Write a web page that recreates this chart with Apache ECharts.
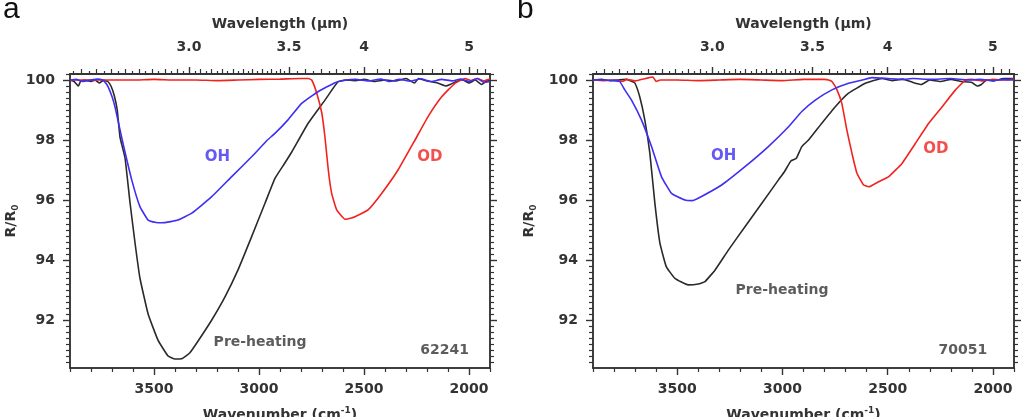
<!DOCTYPE html>
<html><head><meta charset="utf-8">
<script src="https://cdn.jsdelivr.net/npm/echarts@6/dist/echarts.min.js"></script>
<style>html,body{margin:0;padding:0;background:#fff}#c{width:1035px;height:417px}</style>
</head><body><div id="c"></div>
<script>
// ---------------- DATA ----------------
const panelLetters = ['a', 'b'];
const sampleIds = ['62241', '70051'];
const seriesNames = ['Pre-heating', 'OH', 'OD'];
const wavenumberTicks = [3500, 3000, 2500, 2000];
const wavenumberTickLabels = ['3500', '3000', '2500', '2000'];
const wavelengthTicks = [3.0, 3.5, 4, 5];
const wavelengthTickLabels = ['3.0', '3.5', '4', '5'];
const yTicks = [92, 94, 96, 98, 100];
const yTickLabels = ['92', '94', '96', '98', '100'];

// Panel a (sample 62241): [wavenumber cm^-1, R/R0 %]
const preHeatingA = [[3900,100.0],[3880,99.95],[3860,99.8],[3850,99.95],[3830,100.0],[3800,99.95],[3780,100.0],[3760,99.9],[3740,100.0],[3720,99.95],[3705,99.8],[3690,99.5],[3675,99.0],[3662,98.1],[3638,97.4],[3614,95.9],[3590,94.55],[3567,93.4],[3528,92.2],[3481,91.33],[3433,90.8],[3400,90.7],[3365,90.72],[3330,90.9],[3290,91.3],[3225,92.0],[3162,92.77],[3100,93.67],[3035,94.78],[2971,95.9],[2924,96.72],[2880,97.2],[2844,97.6],[2766,98.56],[2686,99.33],[2624,99.94],[2590,100.0],[2540,99.98],[2500,100.02],[2450,99.95],[2400,100.0],[2350,99.97],[2300,100.05],[2260,99.9],[2240,100.05],[2200,99.97],[2150,99.9],[2110,99.8],[2090,99.85],[2060,99.95],[2030,100.0],[2000,99.9],[1970,100.0],[1940,99.85],[1920,99.95],[1900,100.0]];
const ohA = [[3900,100.0],[3870,100.02],[3840,99.95],[3800,100.0],[3770,100.03],[3745,100.0],[3730,99.9],[3719,99.78],[3700,99.45],[3686,99.11],[3648,97.9],[3606,96.67],[3567,95.78],[3528,95.33],[3490,95.25],[3463,95.24],[3420,95.28],[3386,95.33],[3320,95.56],[3225,96.11],[3130,96.78],[3035,97.44],[2960,98.0],[2924,98.22],[2862,98.67],[2797,99.22],[2719,99.61],[2638,99.91],[2583,100.0],[2540,100.02],[2480,99.97],[2420,100.03],[2380,99.95],[2330,100.02],[2280,99.96],[2230,100.04],[2180,99.95],[2130,100.02],[2080,99.97],[2040,100.03],[2000,99.95],[1960,100.05],[1930,99.92],[1900,99.95]];
const odA = [[3900,100.0],[3800,100.0],[3700,100.0],[3600,100.0],[3500,100.02],[3400,100.0],[3300,100.0],[3200,99.98],[3100,100.0],[3000,100.02],[2900,100.03],[2800,100.05],[2765,100.05],[2749,100.0],[2725,99.56],[2701,98.9],[2686,98.1],[2670,97.0],[2654,96.22],[2630,95.67],[2590,95.36],[2560,95.4],[2543,95.44],[2481,95.67],[2416,96.22],[2338,97.0],[2257,98.0],[2195,98.78],[2130,99.44],[2067,99.89],[2019,100.05],[1990,99.98],[1960,100.05],[1930,99.97],[1900,100.03]];

// Panel b (sample 70051)
const preHeatingB = [[3900,100.0],[3860,100.02],[3820,99.98],[3780,100.0],[3740,100.02],[3715,99.95],[3701,99.9],[3678,99.44],[3654,98.67],[3630,97.56],[3606,95.89],[3582,94.56],[3552,93.78],[3511,93.39],[3448,93.17],[3400,93.2],[3368,93.28],[3320,93.67],[3257,94.33],[3178,95.11],[3098,95.89],[3019,96.67],[2990,96.95],[2960,97.3],[2935,97.38],[2908,97.78],[2876,98.0],[2813,98.56],[2749,99.11],[2686,99.56],[2606,99.89],[2527,100.05],[2480,99.98],[2430,100.03],[2380,99.92],[2340,99.85],[2300,100.0],[2250,99.95],[2200,100.02],[2150,99.95],[2100,99.92],[2075,99.8],[2055,99.85],[2030,100.0],[2000,99.97],[1950,100.05],[1900,100.05]];
const ohB = [[3900,100.0],[3850,100.0],[3800,99.98],[3773,99.95],[3749,99.67],[3717,99.33],[3670,98.67],[3622,97.78],[3575,96.78],[3527,96.22],[3463,96.0],[3430,95.98],[3400,96.06],[3289,96.5],[3178,97.11],[3067,97.78],[2971,98.44],[2908,98.95],[2844,99.33],[2765,99.67],[2686,99.89],[2620,100.0],[2575,100.08],[2500,100.05],[2430,100.02],[2380,100.05],[2300,100.02],[2200,100.05],[2120,100.0],[2060,100.02],[2000,99.98],[1950,100.02],[1900,100.0]];
const odB = [[3900,100.0],[3850,99.98],[3800,100.0],[3760,99.95],[3740,100.02],[3700,99.97],[3650,100.05],[3615,100.1],[3600,99.95],[3580,100.0],[3500,100.0],[3400,99.98],[3300,100.0],[3200,100.02],[3100,100.0],[3000,99.98],[2900,100.02],[2800,100.02],[2781,100.0],[2765,99.95],[2741,99.67],[2718,99.22],[2694,98.33],[2670,97.56],[2646,96.89],[2614,96.5],[2590,96.44],[2543,96.61],[2495,96.78],[2432,97.22],[2368,97.89],[2305,98.56],[2241,99.11],[2178,99.67],[2130,100.0],[2100,100.02],[2050,99.97],[2000,100.02],[1950,100.0],[1900,100.03]];

// ---------------- CHART ----------------
const FONT = 'DejaVu Sans';
const AX = '#333';
const X_MIN = 1900, X_MAX = 3900, Y_MIN = 90.4, Y_MAX = 100.2;
const COLORS = { pre: '#2a2a2a', oh: '#3f2ff0', od: '#f0231f' };

function rangeStep(a, b, s) { const r = []; for (let v = a; v <= b + 1e-9; v += s) r.push(+v.toFixed(4)); return r; }
const notIn = (arr, list) => arr.filter(v => !list.some(t => Math.abs(t - v) < 1e-6));

const bottomMinor = notIn(rangeStep(1900, 3900, 100), wavenumberTicks);
const yMinor = notIn(rangeStep(90.6, 100.2, 0.2), yTicks);
const lamMid = [], lamShort = [];
rangeStep(2.575, 5.25, 0.025).forEach(l => {
  const wn = 10000 / l;
  if (wn < X_MIN || wn > X_MAX) return;
  if (wavelengthTicks.some(t => Math.abs(t - l) < 1e-6)) return;
  const r10 = Math.abs(l * 10 - Math.round(l * 10)) < 1e-6;
  const r20 = Math.abs(l * 20 - Math.round(l * 20)) < 1e-6;
  if (l < 3.5) { if (r20) lamMid.push(wn); else lamShort.push(wn); }
  else if (l < 4) { if (r10) lamMid.push(wn); else if (r20) lamShort.push(wn); }
  else { if (r10) lamMid.push(wn); }
});
const topMajor = wavelengthTicks.map(l => 10000 / l);

const panels = [
  { grid: { left: 70, top: 74, width: 420, height: 294 }, data: [preHeatingA, ohA, odA], yNameGap: 50, yLabelMargin: 15,
    ann: { OH: [3198, 97.42], OD: [2186, 97.42], pre: [2995, 91.27], id: [2116, 91.0] } },
  { grid: { left: 593, top: 74, width: 421, height: 294 }, data: [preHeatingB, ohB, odB], yNameGap: 55, yLabelMargin: 15,
    ann: { OH: [3279, 97.47], OD: [2271, 97.7], pre: [3002, 93.0], id: [2143, 91.0] } }
];

const grids = [], xAxis = [], yAxis = [], series = [], graphic = [];
const lineCommon = { show: true, onZero: false, lineStyle: { color: AX, width: 1.5 } };
const tickStyle = (len, w) => ({ show: true, inside: false, length: len, lineStyle: { color: AX, width: w || 1.2 } });
const labelStyle = { fontFamily: FONT, fontSize: 14, fontWeight: 'bold', color: '#333' };

panels.forEach((p, pi) => {
  grids.push(Object.assign({ containLabel: false, outerBoundsMode: 'none' }, p.grid));
  const xBase = xAxis.length;
  const xa = (pos, o) => xAxis.push(Object.assign({
    type: 'value', gridIndex: pi, position: pos, min: X_MIN, max: X_MAX, inverse: true,
    axisLine: lineCommon, splitLine: { show: false }, axisLabel: { show: false }, axisTick: { show: false }
  }, o));
  xa('bottom', {
    axisTick: Object.assign(tickStyle(7, 1.4), { customValues: wavenumberTicks }),
    axisLabel: Object.assign({ show: true, margin: 14, customValues: wavenumberTicks,
      formatter: v => wavenumberTickLabels[wavenumberTicks.indexOf(v)] }, labelStyle),
    name: 'Wavenumber (cm{sup|-1})', nameLocation: 'middle', nameGap: 38,
    nameTextStyle: Object.assign({}, labelStyle, { fontSize: 14, rich: { sup: { fontFamily: FONT, fontSize: 9, fontWeight: 'bold', color: '#333', verticalAlign: 'top', lineHeight: 18 } } })
  });
  xa('bottom', { axisTick: Object.assign(tickStyle(4), { customValues: bottomMinor }) });
  xa('top', {
    axisTick: Object.assign(tickStyle(7, 1.4), { customValues: topMajor }),
    axisLabel: Object.assign({ show: true, margin: 20, customValues: topMajor,
      formatter: v => { let k = 0; topMajor.forEach((t, i) => { if (Math.abs(t - v) < Math.abs(topMajor[k] - v)) k = i; }); return wavelengthTickLabels[k]; } }, labelStyle),
    name: 'Wavelength (μm)', nameLocation: 'middle', nameGap: 43,
    nameTextStyle: Object.assign({}, labelStyle)
  });
  xa('top', { axisTick: Object.assign(tickStyle(5), { customValues: lamMid }) });
  xa('top', { axisTick: Object.assign(tickStyle(3), { customValues: lamShort }) });

  const yBase = yAxis.length;
  const ya = (pos, o) => yAxis.push(Object.assign({
    type: 'value', gridIndex: pi, position: pos, min: Y_MIN, max: Y_MAX,
    axisLine: lineCommon, splitLine: { show: false }, axisLabel: { show: false }, axisTick: { show: false }
  }, o));
  ya('left', {
    axisTick: Object.assign(tickStyle(7, 1.4), { customValues: yTicks }),
    axisLabel: Object.assign({ show: true, margin: p.yLabelMargin, customValues: yTicks,
      formatter: v => yTickLabels[yTicks.indexOf(v)] }, labelStyle),
    name: 'R/R{sub|0}', nameLocation: 'middle', nameGap: p.yNameGap,
    nameTextStyle: Object.assign({}, labelStyle, { rich: { sub: { fontFamily: FONT, fontSize: 9, fontWeight: 'bold', color: '#333', verticalAlign: 'bottom', lineHeight: 18 } } })
  });
  ya('left', { axisTick: Object.assign(tickStyle(4), { customValues: yMinor }) });
  ya('right', { axisTick: Object.assign(tickStyle(7, 1.4), { customValues: yTicks }) });
  ya('right', { axisTick: Object.assign(tickStyle(4), { customValues: yMinor }) });

  const order = [0, 2, 1];
  order.forEach((di, k) => {
    series.push({
      type: 'line', name: seriesNames[di] + ' ' + panelLetters[pi], xAxisIndex: xBase, yAxisIndex: yBase,
      data: p.data[di], showSymbol: false, symbol: 'none', smooth: 0.12, silent: true, animation: false,
      lineStyle: { width: 1.6, color: [COLORS.pre, COLORS.oh, COLORS.od][di] }, z: 2 + k
    });
  });
  const ann = (name, pos, color, size, weight) => ({
    name, value: pos, label: { show: true, position: 'inside', formatter: '{b}', color, fontSize: size, fontWeight: weight, fontFamily: FONT }
  });
  series.push({
    type: 'scatter', xAxisIndex: xBase, yAxisIndex: yBase, symbolSize: 1, silent: true, animation: false,
    itemStyle: { color: 'rgba(0,0,0,0)' }, z: 10,
    data: [
      ann('OH', p.ann.OH, COLORS.oh, 15, 'bold'),
      ann('OD', p.ann.OD, COLORS.od, 15, 'bold'),
      ann(seriesNames[0], p.ann.pre, '#333', 14, 'bold'),
      ann(sampleIds[pi], p.ann.id, '#333', 14, 'bold')
    ]
  });
  graphic.push({ type: 'text', left: pi === 0 ? 3 : 517, top: -5, style: { text: panelLetters[pi], fontFamily: 'Liberation Sans', fontSize: 30, fill: '#111' } });
});

const chart = echarts.init(document.getElementById('c'), null, { renderer: 'canvas' });
chart.setOption({ animation: false, backgroundColor: '#fff', grid: grids, xAxis, yAxis, series, graphic });
</script></body></html>
